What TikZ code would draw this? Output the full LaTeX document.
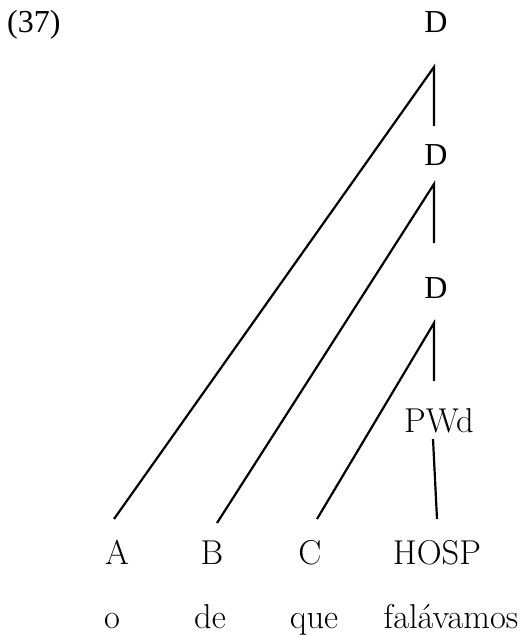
\documentclass[tikz,border=0pt]{standalone}
\usepackage{fontspec}
\newfontfamily\tnr{Liberation Serif}

\begin{document}
\begin{tikzpicture}[x=1pt, y=-1pt,
    branch/.style={black, line width=2.2pt},
    lbl/.style={inner sep=0pt, anchor=base, font=\fontsize{34.5}{40}\selectfont},
    cat/.style={inner sep=0pt, anchor=base, font=\tnr\fontsize{32}{36}\selectfont}]
  \useasboundingbox (0,0) rectangle (523,636);
  % example number and D spine
  \node[cat, anchor=base west] (exnum) at (7,33) {(37)};
  \node[cat] (dtop) at (436,33) {D};
  \node[cat] (dmid) at (436,166) {D};
  \node[cat] (dlow) at (436,298) {D};
  \node[lbl] (pwd) at (439,432) {PWd};
  % leaves
  \node[lbl] (la) at (117,564) {A};
  \node[lbl] (lb) at (212,564) {B};
  \node[lbl] (lc) at (310,564) {C};
  \node[lbl] (lhosp) at (437,564) {HOSP};
  \node[lbl] (wo) at (112,628) {o};
  \node[lbl] (wde) at (210,628) {de};
  \node[lbl] (wque) at (314,628) {que};
  \node[lbl] (wfal) at (451,628) {falávamos};
  % branch points
  \coordinate (tapex) at (434,67);  \coordinate (tfoot) at (434,126);
  \coordinate (mapex) at (434,184); \coordinate (mfoot) at (434,243);
  \coordinate (lapex) at (434,323); \coordinate (lfoot) at (434,381);
  \coordinate (pfoot) at (433,439);
  \coordinate (aend) at (114,519);  \coordinate (bend) at (217,523);
  \coordinate (cend) at (317,519);  \coordinate (hend) at (437,519);
  \draw[branch] (aend) -- (tapex) -- (tfoot);
  \draw[branch] (bend) -- (mapex) -- (mfoot);
  \draw[branch] (cend) -- (lapex) -- (lfoot);
  \draw[branch] (pfoot) -- (hend);
\end{tikzpicture}
\end{document}
